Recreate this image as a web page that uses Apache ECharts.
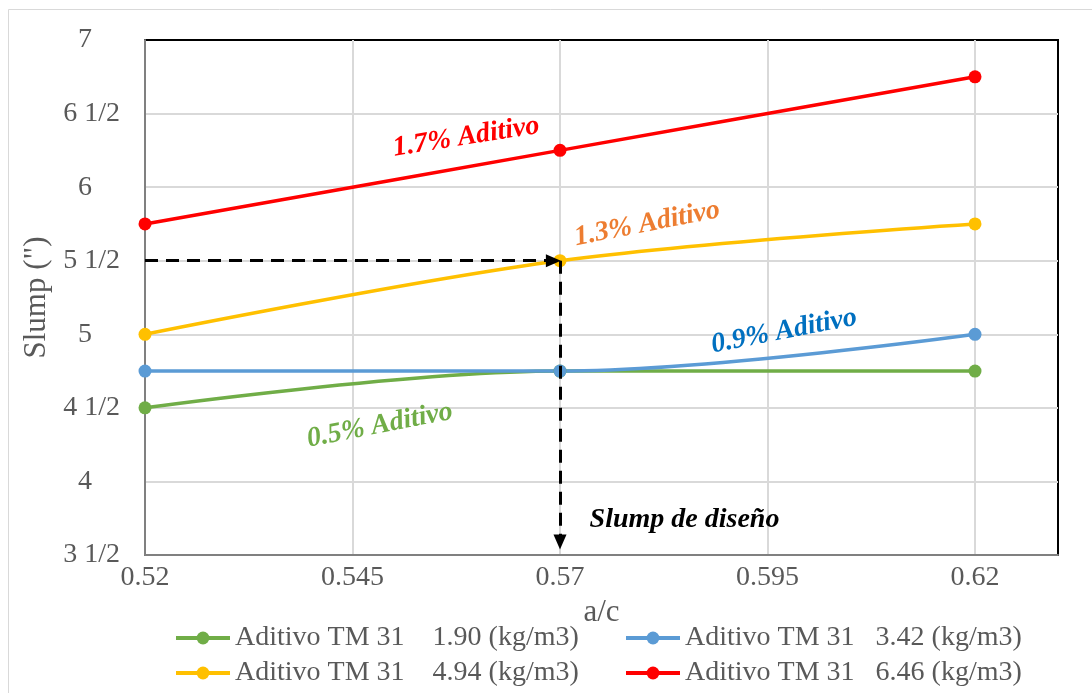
<!DOCTYPE html>
<html>
<head>
<meta charset="utf-8">
<script src="https://cdn.jsdelivr.net/npm/echarts@6/dist/echarts.min.js"></script>
<style>html,body{margin:0;padding:0;background:#fff}#c{width:1092px;height:693px}</style>
</head>
<body>
<div id="c"></div>
<script>
// ---- data ----
var xValues = [0.52, 0.57, 0.62];
var xTicks = [0.52, 0.545, 0.57, 0.595, 0.62];
var seriesNames = [
  'Aditivo TM 31    1.90 (kg/m3)',
  'Aditivo TM 31   3.42 (kg/m3)',
  'Aditivo TM 31    4.94 (kg/m3)',
  'Aditivo TM 31   6.46 (kg/m3)'
];
var slump190 = [4.5, 4.75, 4.75];
var slump342 = [4.75, 4.75, 5.0];
var slump494 = [5.0, 5.5, 5.75];
var slump646 = [5.75, 6.25, 6.75];
var seriesColors = ['#70AD47', '#5B9BD5', '#FFC000', '#FF0000'];
// annotation texts and their anchor positions (data units)
var noteTexts = ['1.7% Aditivo', '1.3% Aditivo', '0.9% Aditivo', '0.5% Aditivo', 'Slump de diseño'];
var noteX = [0.5587, 0.5805, 0.5970, 0.5483, 0.5850];
var noteY = [6.34, 5.75, 5.02, 4.38, 3.74];
var noteColors = ['#FF0000', '#ED7D31', '#0070C0', '#70AD47', '#000000'];
var noteRotate = [9, 11, 11, 11, 0];
// design slump guide
var designX = 0.57, designY = 5.5, arrowEndX = 0.5692, arrowEndY = 3.588;

var allValues = [slump190, slump342, slump494, slump646];
var font = 'Liberation Serif, Times New Roman, serif';

var chart = echarts.init(document.getElementById('c'), null, {renderer: 'canvas'});

var series = allValues.map(function (vals, i) {
  return {
    name: seriesNames[i],
    type: 'line',
    smooth: 0.35,
    data: xValues.map(function (x, j) { return [x, vals[j]]; }),
    symbol: 'circle',
    symbolSize: 13,
    lineStyle: {width: 3.5, color: seriesColors[i]},
    itemStyle: {color: seriesColors[i]},
    z: 3
  };
});

series.push({
  name: 'guide',
  type: 'line',
  data: [],
  z: 4,
  markLine: {
    silent: true,
    symbol: ['none', 'triangle'],
    symbolSize: [13, 15],
    label: {show: false},
    lineStyle: {color: '#000', type: [13, 8], width: 3},
    data: [
      [{coord: [xValues[0], designY]}, {coord: [arrowEndX, designY]}],
      [{coord: [designX, designY]}, {coord: [designX, arrowEndY]}]
    ]
  }
});

series.push({
  name: 'notes',
  type: 'scatter',
  symbolSize: 1,
  itemStyle: {color: 'rgba(0,0,0,0)'},
  silent: true,
  z: 5,
  data: noteTexts.map(function (t, i) {
    return {
      name: t,
      value: [noteX[i], noteY[i]],
      label: {
        show: true,
        formatter: t,
        position: 'inside',
        rotate: noteRotate[i],
        color: noteColors[i],
        textBorderWidth: 0,
        textBorderColor: 'transparent',
        opacity: 1,
        fontFamily: font,
        fontStyle: 'italic',
        fontWeight: 'bold',
        fontSize: 28,
        align: 'center',
        verticalAlign: 'middle'
      }
    };
  })
});

var legendCommon = {
  orient: 'vertical',
  top: 624,
  padding: 0,
  itemWidth: 54,
  itemHeight: 16,
  itemGap: 7,
  lineStyle: {width: 4},
  textStyle: {fontFamily: font, fontSize: 28, color: '#595959'}
};

chart.setOption({
  animation: false,
  backgroundColor: '#fff',
  graphic: [{
    type: 'rect',
    shape: {x: 8.5, y: 9.5, width: 1100, height: 700},
    style: {fill: 'none', stroke: '#D9D9D9', lineWidth: 1},
    silent: true
  }],
  grid: {left: 145, right: 34, top: 40, bottom: 138, show: true, borderColor: '#000', borderWidth: 2, backgroundColor: 'transparent'},
  legend: [
    Object.assign({}, legendCommon, {left: 174, data: [seriesNames[0], seriesNames[2]]}),
    Object.assign({}, legendCommon, {left: 624, data: [seriesNames[1], seriesNames[3]]})
  ],
  xAxis: {
    type: 'value',
    min: 0.52,
    max: 0.63,
    name: 'a/c',
    nameLocation: 'middle',
    nameGap: 32,
    nameTextStyle: {fontFamily: font, fontSize: 31, color: '#595959'},
    axisLine: {show: true, lineStyle: {color: '#808080', width: 2}},
    axisTick: {show: false, customValues: xTicks},
    axisLabel: {customValues: xTicks, fontFamily: font, fontSize: 28, color: '#595959', margin: 9,
      formatter: function (v) { return String(+v.toFixed(3)); }},
    splitLine: {show: true, lineStyle: {color: '#D9D9D9', width: 2}}
  },
  yAxis: {
    type: 'value',
    min: 3.5,
    max: 7,
    interval: 0.5,
    name: 'Slump (")',
    nameLocation: 'middle',
    nameGap: 88,
    nameTextStyle: {fontFamily: font, fontSize: 31, color: '#595959'},
    axisLine: {show: true, lineStyle: {color: '#808080', width: 2}},
    axisTick: {show: false},
    axisLabel: {fontFamily: font, fontSize: 28, color: '#595959', margin: 25, align: 'right',
      formatter: function (v) {
        var w = Math.floor(v + 1e-9);
        return (v - w > 0.25) ? (w + ' 1/2') : (w + '\u00a0\u00a0\u00a0\u00a0');
      }},
    splitLine: {show: true, showMaxLine: false, lineStyle: {color: '#D9D9D9', width: 2}}
  },
  series: series
});
</script>
</body>
</html>
